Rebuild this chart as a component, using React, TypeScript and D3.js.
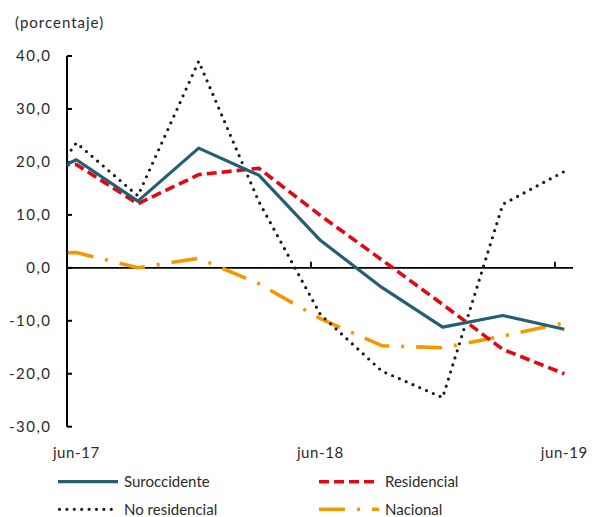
import React from "react";
import * as d3 from "d3";

// Quarterly dates (mid-month); first one (mar-17) lies left of the visible axis and is clipped
const dates = [
  "2017-03-15", "2017-06-15", "2017-09-15", "2017-12-15", "2018-03-15",
  "2018-06-15", "2018-09-15", "2018-12-15", "2019-03-15", "2019-06-15",
];
const suroccidente = [15.0, 20.4, 12.6, 22.6, 17.5, 5.2, -3.7, -11.2, -9.0, -11.6];
const residencial = [19.2, 19.5, 12.1, 17.6, 18.8, 9.9, 1.5, -6.9, -15.4, -20.0];
const noResidencial = [7.5, 23.6, 13.6, 39.0, 12.5, -8.8, -19.5, -24.5, 12.0, 18.2];
const nacional = [2.6, 2.9, 0.0, 1.8, -3.0, -9.6, -14.7, -15.1, -12.9, -10.4];

const yTicks = [40, 30, 20, 10, 0, -10, -20, -30];
const xTickDates = ["2017-06-01", "2018-06-01", "2019-06-01"];
const xLabels = [
  { date: "2017-06-15", text: "jun-17" },
  { date: "2018-06-15", text: "jun-18" },
  { date: "2019-06-15", text: "jun-19" },
];

const seriesDefs = [
  { name: "Suroccidente", values: suroccidente, color: "#235E71", width: 3.2, dash: "", cap: "butt" },
  { name: "Residencial", values: residencial, color: "#E30613", width: 3.6, dash: "10 5", cap: "butt" },
  { name: "No residencial", values: noResidencial, color: "#1a1a1a", width: 3.2, dash: "0 7.4", cap: "round" },
  { name: "Nacional", values: nacional, color: "#F39800", width: 3.6, dash: "26 12 3 12", cap: "butt" },
];

const FONT = "Lato, 'Open Sans', sans-serif";

export default function App() {
  const W = 592;
  const H = 517;
  const parse = d3.timeParse("%Y-%m-%d");
  const x = d3
    .scaleTime()
    .domain([parse("2017-06-01")!, parse("2019-06-28")!])
    .range([67, 573]);
  const y = d3.scaleLinear().domain([-30, 40]).range([426.7, 56]);
  const fmt = (v: number) => d3.format(".1f")(v).replace(".", ",").replace("−", "-");

  const line = d3
    .line<[Date, number]>()
    .x((d) => x(d[0]))
    .y((d) => y(d[1]));

  const legendItems = [
    { s: seriesDefs[0], x: 58, y: 481.7 },
    { s: seriesDefs[1], x: 319, y: 481.7 },
    { s: seriesDefs[2], x: 58, y: 509.3 },
    { s: seriesDefs[3], x: 319, y: 509.3 },
  ];

  return (
    <div style={{ width: W, height: H }}>
      <style>{"body{margin:0}"}</style>
      <svg width={W} height={H} style={{ display: "block", fontFamily: FONT }}>
        <defs>
          <clipPath id="plot">
            <rect x={67} y={0} width={506} height={H} />
          </clipPath>
        </defs>
        <rect width={W} height={H} fill="#fff" />
        <text x={15} y={28} fontSize={15} letterSpacing={1} fill="#2a2a2a">(porcentaje)</text>

        {/* y axis */}
        <line x1={67} x2={67} y1={y(40)} y2={y(-30)} stroke="#000" strokeWidth={2} />
        {yTicks.map((t) => (
          <g key={t}>
            <line x1={67} x2={72} y1={y(t)} y2={y(t)} stroke="#000" strokeWidth={2} />
            <text x={51.5} y={y(t)} dy="0.35em" textAnchor="end" fontSize={15} letterSpacing={1.5} fill="#2a2a2a">
              {fmt(t)}
            </text>
          </g>
        ))}

        {/* x axis at zero */}
        <line x1={67} x2={573} y1={y(0)} y2={y(0)} stroke="#000" strokeWidth={1.8} />
        {xTickDates.map((d) => (
          <line key={d} x1={x(parse(d)!)} x2={x(parse(d)!)} y1={y(0)} y2={y(0) - 6} stroke="#000" strokeWidth={1.8} />
        ))}
        {xLabels.map((l) => (
          <text key={l.text} x={x(parse(l.date)!)} y={458} textAnchor="middle" fontSize={15} letterSpacing={0.6} fill="#2a2a2a">
            {l.text}
          </text>
        ))}

        {/* series */}
        <g clipPath="url(#plot)">
          {[seriesDefs[3], seriesDefs[2], seriesDefs[1], seriesDefs[0]].map((s) => (
            <path
              key={s.name}
              d={line(dates.map((d, i) => [parse(d)!, s.values[i]]))!}
              fill="none"
              stroke={s.color}
              strokeWidth={s.width}
              strokeDasharray={s.dash || undefined}
              strokeLinecap={s.cap as any}
              strokeLinejoin="round"
            />
          ))}
        </g>

        {/* legend */}
        {legendItems.map(({ s, x: lx, y: ly }) => (
          <g key={s.name}>
            <line
              x1={s.cap === "round" ? lx + 1.5 : lx}
              x2={lx + 60}
              y1={ly}
              y2={ly}
              stroke={s.color}
              strokeWidth={s.width}
              strokeDasharray={s.dash || undefined}
              strokeLinecap={s.cap as any}
            />
            <text x={lx + 66} y={ly} dy="0.35em" fontSize={15} fill="#2a2a2a">
              {s.name}
            </text>
          </g>
        ))}
      </svg>
    </div>
  );
}
